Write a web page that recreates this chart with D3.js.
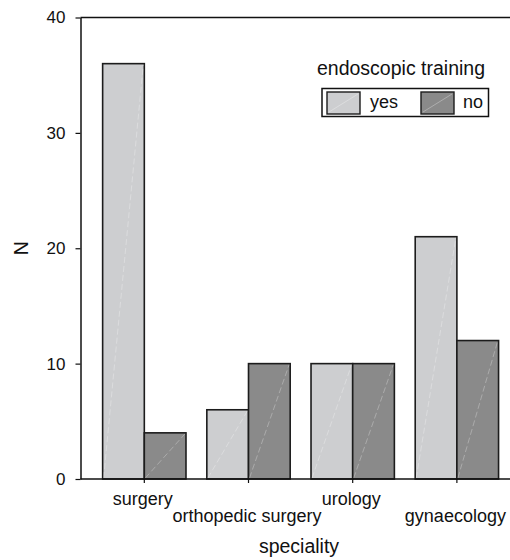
<!DOCTYPE html>
<html><head><meta charset="utf-8">
<script src="https://cdn.jsdelivr.net/npm/d3@7"></script>
<style>
body{margin:0;background:#fff;}
text{font-family:"Liberation Sans",Arial,Helvetica,sans-serif;fill:#111;}
</style></head>
<body><svg id="c" width="510" height="560"></svg>
<script>
const categories = ["surgery","orthopedic surgery","urology","gynaecology"];
const seriesNames = ["yes","no"];
const yesValues = [36,6,10,21];
const noValues = [4,10,10,12];
const yTicks = [0,10,20,30,40];
const legendTitle = "endoscopic training";
const xTitle = "speciality";
const yTitle = "N";

(function(){
const colors = {yes:"#cdced0", no:"#8a8a8a"};
const svg = d3.select("#c");
const pLeft = 80.5, pTop = 17.5, pBottom = 479, pRight = 512;

const y = d3.scaleLinear().domain([0,40]).range([pBottom, pTop]);
const x = d3.scaleBand().domain(categories).range([81.8, 519.4]).paddingInner(0.2).paddingOuter(0.2);
const xs = d3.scaleBand().domain(seriesNames).range([0, x.bandwidth()]);

const data = categories.map((c,i)=>({cat:c, yes:yesValues[i], no:noValues[i]}));

// bars
const g = svg.append("g");
data.forEach(d=>{
  seriesNames.forEach(s=>{
    const bx = x(d.cat)+xs(s), bw = xs.bandwidth(), by = y(d[s]), bh = y(0)-y(d[s]);
    g.append("rect").attr("x",bx).attr("y",by).attr("width",bw).attr("height",bh)
      .attr("fill",colors[s]).attr("stroke","#1c1c1c").attr("stroke-width",1.6);
    g.append("line").attr("x1",bx+1).attr("y1",by+bh-1).attr("x2",bx+bw-1).attr("y2",by+1)
      .attr("stroke","#fff").attr("stroke-opacity",0.28).attr("stroke-width",1)
      .attr("stroke-dasharray","6,3");
  });
});

// frame lines
svg.append("line").attr("x1",pLeft).attr("x2",pRight).attr("y1",y(40)).attr("y2",y(40))
  .attr("stroke","#111").attr("stroke-width",1.5);
svg.append("line").attr("x1",pLeft).attr("x2",pRight).attr("y1",y(0)).attr("y2",y(0))
  .attr("stroke","#111").attr("stroke-width",1.5);

// y axis
const ya = svg.append("g").attr("transform",`translate(${pLeft},0)`)
  .call(d3.axisLeft(y).tickValues(yTicks).tickSize(5).tickPadding(10).tickSizeOuter(0));
ya.select(".domain").attr("stroke","#111").attr("stroke-width",1.5);
ya.selectAll(".tick line").attr("stroke","#111").attr("stroke-width",1.2);
ya.selectAll(".tick text").attr("font-size","17px").attr("font-family","Liberation Sans, Arial, sans-serif").attr("fill","#111");

// x ticks and staggered labels
categories.forEach((c,i)=>{
  const cx = x(c)+x.bandwidth()/2;
  svg.append("line").attr("x1",cx).attr("x2",cx).attr("y1",y(0)).attr("y2",y(0)+4)
    .attr("stroke","#111").attr("stroke-width",1.2);
  svg.append("text").attr("x",cx - 1.5).attr("y", i%2===0 ? 505 : 522)
    .attr("text-anchor","middle").attr("font-size","18px").text(c);
});

// axis titles
svg.append("text").attr("x",299).attr("y",553).attr("text-anchor","middle")
  .attr("font-size","19.5px").text(xTitle);
svg.append("text").attr("transform",`translate(28,${y(20)}) rotate(-90)`).attr("text-anchor","middle")
  .attr("font-size","19.5px").text(yTitle);

// legend
svg.append("text").attr("x",401).attr("y",75).attr("text-anchor","middle").attr("font-size","19.5px").text(legendTitle);
svg.append("rect").attr("x",322).attr("y",88.5).attr("width",166.5).attr("height",28)
  .attr("fill","#fff").attr("stroke","#111").attr("stroke-width",1.5);
const legItems = [{s:"yes", sx:327, tx:370},{s:"no", sx:421, tx:463}];
legItems.forEach(it=>{
  svg.append("rect").attr("x",it.sx).attr("y",92).attr("width",33).attr("height",22)
    .attr("fill",colors[it.s]).attr("stroke","#1c1c1c").attr("stroke-width",1.4);
  svg.append("line").attr("x1",it.sx+2).attr("y1",112).attr("x2",it.sx+31).attr("y2",94)
    .attr("stroke","#fff").attr("stroke-opacity",0.3).attr("stroke-width",1);
  svg.append("text").attr("x",it.tx).attr("y",107.5).attr("font-size","18px").text(it.s);
});
})();
</script></body></html>
